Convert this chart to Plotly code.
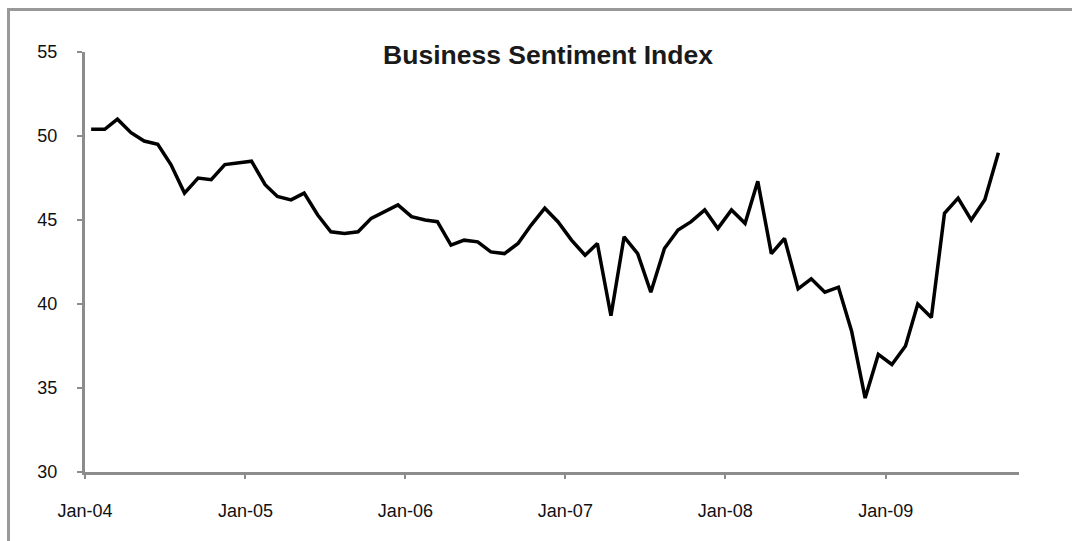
import plotly.graph_objects as go

# Monthly index readings, Jan 2004 through Sep 2009
months = [f"{y}-{m:02d}-15" for y in range(2004, 2010) for m in range(1, 13)][:69]
index_values = [
    50.4, 50.4, 51.0, 50.2, 49.7, 49.5, 48.3, 46.6, 47.5, 47.4, 48.3, 48.4,   # 2004
    48.5, 47.1, 46.4, 46.2, 46.6, 45.3, 44.3, 44.2, 44.3, 45.1, 45.5, 45.9,   # 2005
    45.2, 45.0, 44.9, 43.5, 43.8, 43.7, 43.1, 43.0, 43.6, 44.7, 45.7, 44.9,   # 2006
    43.8, 42.9, 43.6, 39.3, 44.0, 43.0, 40.7, 43.3, 44.4, 44.9, 45.6, 44.5,   # 2007
    45.6, 44.8, 47.3, 43.0, 43.9, 40.9, 41.5, 40.7, 41.0, 38.4, 34.4, 37.0,   # 2008
    36.4, 37.5, 40.0, 39.2, 45.4, 46.3, 45.0, 46.2, 49.0,                     # 2009
]
year_ticks = ["2004-01-01", "2005-01-01", "2006-01-01", "2007-01-01", "2008-01-01", "2009-01-01"]
year_labels = ["Jan-04", "Jan-05", "Jan-06", "Jan-07", "Jan-08", "Jan-09"]
y_ticks = [30, 35, 40, 45, 50, 55]

W, H = 1072, 541
L, R, T, B = 85, 53, 52, 69
pw, ph = W - L - R, H - T - B

fig = go.Figure(
    go.Scatter(
        x=months,
        y=index_values,
        mode="lines",
        line=dict(color="#000000", width=3.5),
        hoverinfo="x+y",
    )
)

axis_grey = "#8c8c8c"
tick_font = dict(family="Liberation Sans, Arial, sans-serif", size=18, color="#111111")

fig.update_layout(
    width=W,
    height=H,
    margin=dict(l=L, r=R, t=T, b=B),
    paper_bgcolor="white",
    plot_bgcolor="white",
    showlegend=False,
    title=dict(
        text="<b>Business Sentiment Index</b>",
        font=dict(family="Liberation Sans, Arial, sans-serif", size=26.5, color="#1a1a1a"),
        x=548 / W,
        xref="container",
        xanchor="center",
        y=1 - 55 / H,
        yref="container",
        yanchor="middle",
    ),
    xaxis=dict(
        type="date",
        range=["2004-01-01", "2009-11-01"],
        tickvals=year_ticks,
        ticktext=year_labels,
        showgrid=False,
        zeroline=False,
        showline=True,
        linecolor=axis_grey,
        linewidth=3,
        ticks="outside",
        ticklen=4,
        tickwidth=2,
        tickcolor=axis_grey,
        tickfont=tick_font,
        ticklabelstandoff=16,
    ),
    yaxis=dict(
        range=[30, 55],
        tickvals=y_ticks,
        ticktext=[str(v) for v in y_ticks],
        showgrid=False,
        zeroline=False,
        showline=True,
        linecolor=axis_grey,
        linewidth=3,
        ticks="outside",
        ticklen=5,
        tickwidth=2,
        tickcolor=axis_grey,
        tickfont=tick_font,
        ticklabelstandoff=16,
    ),
)

# Frame lines along the top and left edges of the chart area
def px_to_paper_x(px):
    return (px - L) / pw

def px_to_paper_y(py):
    return (H - B - py) / ph

frame = dict(color="#999999", width=3)
fig.add_shape(type="line", xref="paper", yref="paper",
              x0=px_to_paper_x(8.5), x1=px_to_paper_x(W + 2),
              y0=px_to_paper_y(9.5), y1=px_to_paper_y(9.5), line=frame)
fig.add_shape(type="line", xref="paper", yref="paper",
              x0=px_to_paper_x(8.5), x1=px_to_paper_x(8.5),
              y0=px_to_paper_y(8), y1=px_to_paper_y(H + 2), line=frame)

fig.write_html("out.html")
